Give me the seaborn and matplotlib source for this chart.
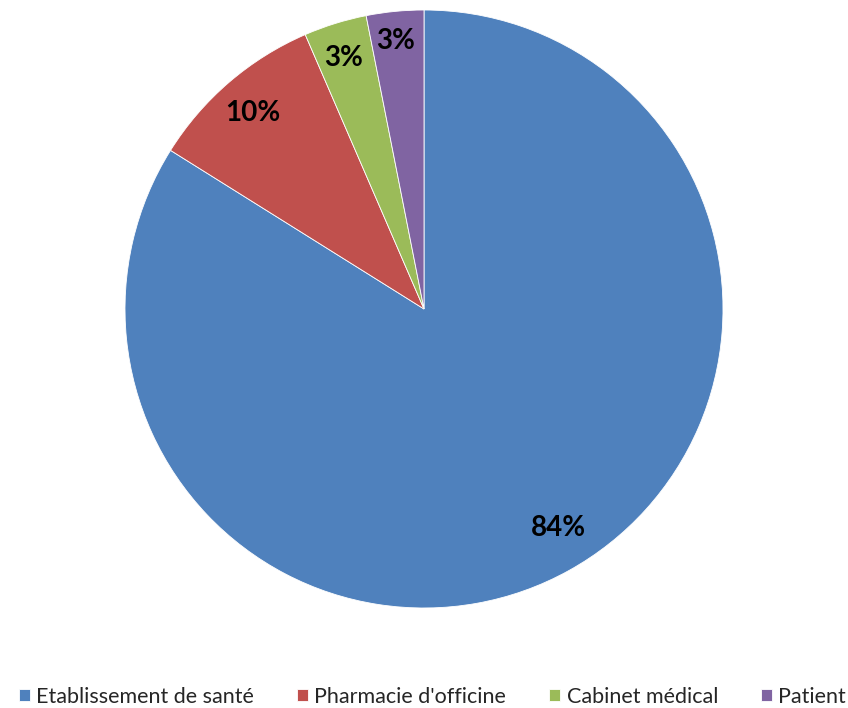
import matplotlib
matplotlib.use("Agg")
import matplotlib.pyplot as plt
import seaborn as sns
import numpy as np

categories = ["Etablissement de santé", "Pharmacie d'officine", "Cabinet médical", "Patient"]
shares = [83.9, 9.6, 3.4, 3.1]
labels = ["84%", "10%", "3%", "3%"]
label_radius = [0.86, 0.87, 0.88, 0.90]
colors = ["#4F81BD", "#C0504D", "#9BBB59", "#8064A2"]

sns.set_theme(style="white")
plt.rcParams["font.family"] = ["Lato", "DejaVu Sans"]
palette = sns.color_palette(colors)

fig = plt.figure(figsize=(8.48, 7.08), dpi=100)
ax = fig.add_axes([125 / 848, 100 / 708, 598 / 848, 598 / 708])

wedges, _ = ax.pie(
    shares,
    colors=palette,
    startangle=90,
    counterclock=False,
    radius=1.0,
    wedgeprops=dict(edgecolor="white", linewidth=0.6),
)
ax.set_xlim(-1, 1)
ax.set_ylim(-1, 1)

for w, lab, r in zip(wedges, labels, label_radius):
    mid = np.deg2rad((w.theta1 + w.theta2) / 2 + (2.5 if lab == "84%" else 0.5))
    ax.text(r * np.cos(mid), r * np.sin(mid), lab, ha="center", va="center",
            fontsize=20, fontweight="bold", color="black")

fig.legend(
    wedges, categories,
    loc="center", bbox_to_anchor=(0.51, 1 - 697 / 708),
    ncol=4, frameon=False, fontsize=15.5,
    handlelength=0.5, handleheight=0.5, handletextpad=0.3,
    columnspacing=2.0, borderpad=0.1, borderaxespad=0.1,
)

fig.savefig("out.png", dpi=100, facecolor="white")
